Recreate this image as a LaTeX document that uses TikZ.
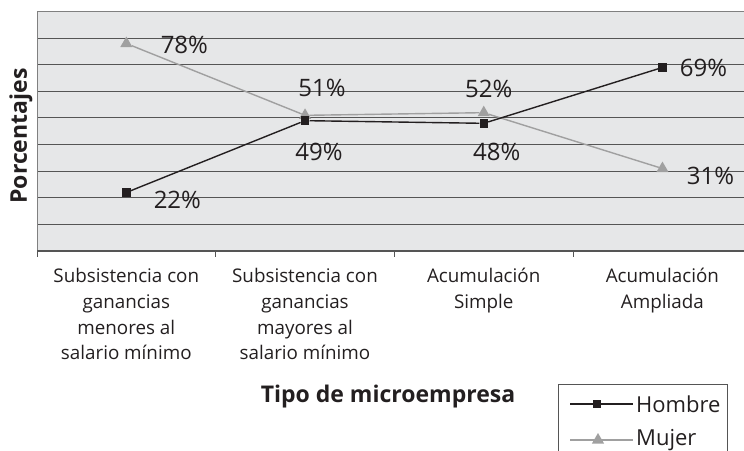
\documentclass[tikz,border=0pt]{standalone}
\usepackage{fontspec}
\setmainfont{Open Sans}
\usetikzlibrary{shapes.geometric}

\definecolor{plotbg}{RGB}{230,231,232}
\definecolor{gridcol}{RGB}{85,85,85}
\definecolor{hombrecol}{RGB}{35,31,32}
\definecolor{mujercol}{RGB}{160,160,160}

\tikzset{
    hombre/.style={rectangle, fill=hombrecol, minimum size=8.5pt, inner sep=0pt},
    mujer/.style={regular polygon, regular polygon sides=3, fill=mujercol, minimum size=14pt, inner sep=0pt},
    pct/.style={font=\fontsize{24}{28}\selectfont, text=hombrecol, inner sep=0pt},
    cat/.style={align=center, anchor=north, font=\fontsize{18.8}{25.6}\selectfont, text=hombrecol},
    titulo/.style={font=\fontsize{23}{27}\selectfont\bfseries, text=hombrecol},
    leyenda/.style={font=\fontsize{22}{26}\selectfont, text=hombrecol, anchor=west, inner sep=0pt},
}

\begin{document}
\begin{tikzpicture}[x=1pt, y=1pt]
    \useasboundingbox (0,0) rectangle (744,450);
    \fill[plotbg] (37,199) rectangle (744,438.4);

    \begin{scope}[shift={(37,199)}, x=178.7pt, y=2.66pt]
        \foreach \v in {10,20,...,80}
            \draw[gridcol, line width=1pt] (0,\v) -- (3.96,\v);
        \draw[gray, line width=1pt] (0,90) -- (3.96,90);
        \draw[gray, line width=1pt] (0,0) -- (0,90);
        \draw[gridcol, line width=1.2pt] (0,0) -- (3.96,0);
        \foreach \i in {0,...,3}
            \draw[gridcol, line width=0.8pt] (\i,0) -- (\i,-2.3);

        \node[mujer] (m1) at (0.5,78) {};
        \node[mujer] (m2) at (1.5,51) {};
        \node[mujer] (m3) at (2.5,52) {};
        \node[mujer] (m4) at (3.5,31) {};
        \draw[mujercol, line width=1.4pt] (m1) -- (m2) -- (m3) -- (m4);

        \node[hombre] (h1) at (0.5,22) {};
        \node[hombre] (h2) at (1.5,49) {};
        \node[hombre] (h3) at (2.5,48) {};
        \node[hombre] (h4) at (3.5,69) {};
        \draw[hombrecol, line width=1.4pt] (h1) -- (h2) -- (h3) -- (h4);
    \end{scope}

    \node[pct] (lm1) at ([shift={(58pt,-1.5pt)}]m1.center) {78\%};
    \node[pct] (lm2) at ([shift={(17pt,27pt)}]m2.center) {51\%};
    \node[pct] (lm3) at ([shift={(5pt,24pt)}]m3.center) {52\%};
    \node[pct] (lm4) at ([shift={(48pt,-7pt)}]m4.center) {31\%};
    \node[pct] (lh1) at ([shift={(51pt,-7pt)}]h1.center) {22\%};
    \node[pct] (lh2) at ([shift={(14pt,-31pt)}]h2.center) {49\%};
    \node[pct] (lh3) at ([shift={(13pt,-29pt)}]h3.center) {48\%};
    \node[pct] (lh4) at ([shift={(41pt,0pt)}]h4.center) {69\%};

    \node[cat] (c1) at (126.3,185) {Subsistencia con\\ganancias\\menores al\\salario mínimo};
    \node[cat] (c2) at (305,185) {Subsistencia con\\ganancias\\mayores al\\salario mínimo};
    \node[cat] (c3) at (483.7,185) {Acumulación\\Simple};
    \node[cat] (c4) at (662.4,185) {Acumulación\\Ampliada};

    \node[titulo] (xt) at (388,53) {Tipo de microempresa};
    \node[titulo, rotate=90] (yt) at (21,314) {Porcentajes};

    \draw[gridcol, line width=1pt] (558,-1) |- (727,66) -- (727,-1);
    \coordinate (ha) at (570,46);
    \coordinate (hb) at (633,46);
    \draw[hombrecol, line width=1.4pt] (ha) -- (hb);
    \node[hombre] (hm) at (597,46) {};
    \node[leyenda] (hl) at (636,46) {Hombre};
    \coordinate (ma) at (570,10);
    \coordinate (mb) at (633,10);
    \draw[mujercol, line width=1.4pt] (ma) -- (mb);
    \node[mujer] (mm) at (598,10) {};
    \node[leyenda] (ml) at (636,10) {Mujer};
\end{tikzpicture}
\end{document}
